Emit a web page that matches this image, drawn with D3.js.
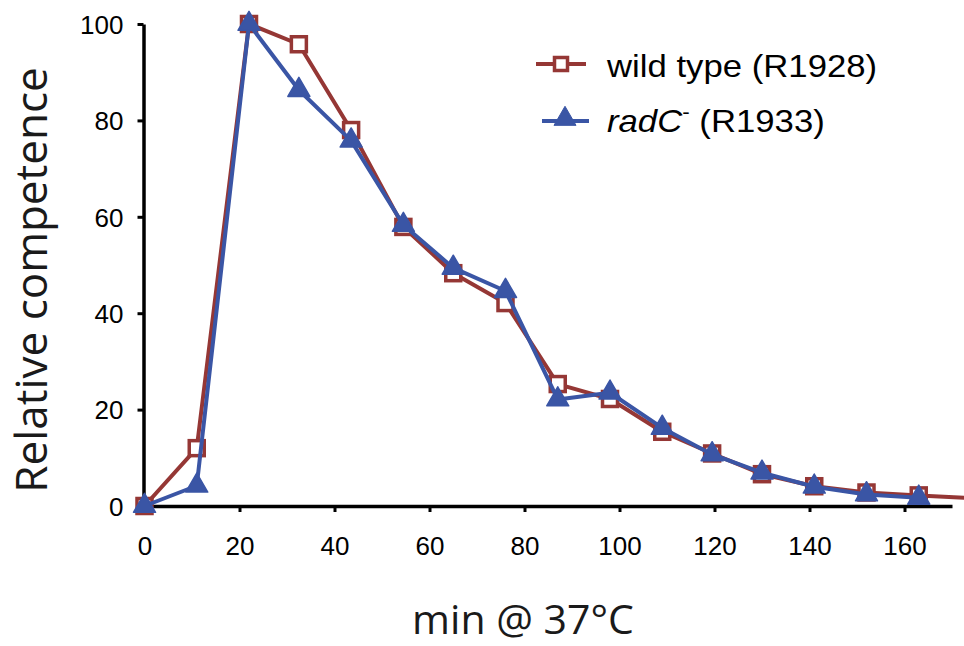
<!DOCTYPE html>
<html>
<head>
<meta charset="utf-8">
<script src="https://cdn.jsdelivr.net/npm/d3@7/dist/d3.min.js"></script>
<style>
  html, body { margin: 0; padding: 0; background: #fff; }
  svg { display: block; }
</style>
</head>
<body>
<svg id="chart" width="964" height="646"></svg>
<script>
// ---- data ----
const wtTimes    = [0, 11, 22, 32.5, 43.5, 54.5, 65, 76, 87, 98, 109, 119.5, 130, 141, 152, 163, 176];
const wtValues   = [0, 12, 100, 95.8, 78, 57.9, 48.3, 42.1, 25.3, 22.2, 15.4, 10.9, 6.6, 4.1, 2.8, 2.2, 1.5];
const radCTimes  = [0, 11, 22, 32.5, 43.5, 54.5, 65, 76, 87, 98, 109, 119.5, 130, 141, 152, 163];
const radCValues = [0, 4.2, 100, 86.3, 75.8, 58.3, 49.4, 44.6, 22.1, 23.5, 16.2, 10.7, 6.9, 4.0, 2.4, 1.7];
const xTicks = [0, 20, 40, 60, 80, 100, 120, 140, 160];
const yTicks = [0, 20, 40, 60, 80, 100];
const seriesNames = ["wild type", "radC"];
const strainLabels = ["(R1928)", "(R1933)"];
const xTitle = "min @ 37°C";
const yTitle = "Relative competence";

// ---- layout ----
const svg = d3.select("#chart");
const RED = "#953735", BLUE = "#3a55a5";
const x = d3.scaleLinear().domain([0, 170]).range([144.5, 952]);
const y = d3.scaleLinear().domain([0, 100]).range([506, 24]);

// axes
const xAxis = svg.append("g").attr("transform", `translate(0,${y(0)})`)
  .call(d3.axisBottom(x).tickValues(xTicks).tickSize(6).tickSizeOuter(0).tickFormat(d3.format("d")));
const yAxis = svg.append("g").attr("transform", `translate(${x(0) - 1},0)`)
  .call(d3.axisLeft(y).tickValues(yTicks).tickSize(6).tickSizeOuter(0).tickFormat(d3.format("d")));

[xAxis, yAxis].forEach(g => {
  g.select(".domain").attr("stroke", "#000").attr("stroke-width", 3.5);
  g.selectAll(".tick line").attr("stroke", "#000").attr("stroke-width", 3);
  g.selectAll(".tick text").attr("fill", "#000")
    .style("font-family", "'Liberation Sans', Arial, sans-serif").style("font-size", "26px");
});
xAxis.selectAll(".tick text").attr("dy", 0).attr("y", 49);
yAxis.selectAll(".tick text").attr("x", -20).attr("dy", "0.36em");

// lines
function drawSeries(times, values, color) {
  const pts = times.map((t, i) => [t, values[i]]);
  svg.append("path").datum(pts)
    .attr("fill", "none").attr("stroke", color).attr("stroke-width", 4)
    .attr("stroke-linejoin", "round")
    .attr("d", d3.line().x(d => x(d[0])).y(d => y(d[1])));
  return pts;
}
const wtPts = drawSeries(wtTimes, wtValues, RED);
svg.append("g").selectAll("rect").data(wtPts).join("rect")
  .attr("x", d => x(d[0]) - 7.5).attr("y", d => y(d[1]) - 7.5)
  .attr("width", 15).attr("height", 15)
  .attr("fill", "#fff").attr("stroke", RED).attr("stroke-width", 3.5);

const radPts = drawSeries(radCTimes, radCValues, BLUE);
const tri = d3.symbol().type(d3.symbolTriangle).size(210);
svg.append("g").selectAll("path").data(radPts).join("path")
  .attr("transform", d => `translate(${x(d[0])},${y(d[1])})`)
  .attr("d", tri).attr("fill", BLUE).attr("stroke", BLUE).attr("stroke-width", 1.5)
  .attr("stroke-linejoin", "round");

// legend
const lg = svg.append("g");
lg.append("line").attr("x1", 536).attr("x2", 586).attr("y1", 64).attr("y2", 64)
  .attr("stroke", RED).attr("stroke-width", 4);
lg.append("rect").attr("x", 561 - 6.5).attr("y", 64 - 6.5).attr("width", 13).attr("height", 13)
  .attr("fill", "#fff").attr("stroke", RED).attr("stroke-width", 3.5);
lg.append("line").attr("x1", 542).attr("x2", 589).attr("y1", 121).attr("y2", 121)
  .attr("stroke", BLUE).attr("stroke-width", 4);
lg.append("path").attr("transform", "translate(565,119)").attr("d", tri)
  .attr("fill", BLUE).attr("stroke", BLUE).attr("stroke-width", 1);

const lgFont = "'Liberation Sans', Arial, sans-serif";
lg.append("text").attr("transform", "translate(607,77) scale(1.12,1)")
  .style("font-family", lgFont).style("font-size", "31px").attr("fill", "#000")
  .text(`${seriesNames[0]} ${strainLabels[0]}`);
const t2 = lg.append("text").attr("transform", "translate(607,132) scale(1.12,1)")
  .style("font-family", lgFont).style("font-size", "31px").attr("fill", "#000");
t2.append("tspan").style("font-style", "italic").text(seriesNames[1]);
t2.append("tspan").attr("dy", -13).style("font-size", "20px").text("-");
t2.append("tspan").attr("dy", 13).text(" " + strainLabels[1]);

// axis titles
svg.append("text").attr("transform", "translate(47,280) rotate(-90)")
  .attr("text-anchor", "middle")
  .style("font-family", "'Open Sans', 'Noto Sans', sans-serif").style("font-size", "44px")
  .attr("fill", "#1a1a1a").text(yTitle);
svg.append("text").attr("x", 523).attr("y", 634).attr("text-anchor", "middle")
  .style("font-family", "'Open Sans', 'Noto Sans', sans-serif").style("font-size", "41px")
  .attr("fill", "#1a1a1a").text(xTitle);
</script>
</body>
</html>
